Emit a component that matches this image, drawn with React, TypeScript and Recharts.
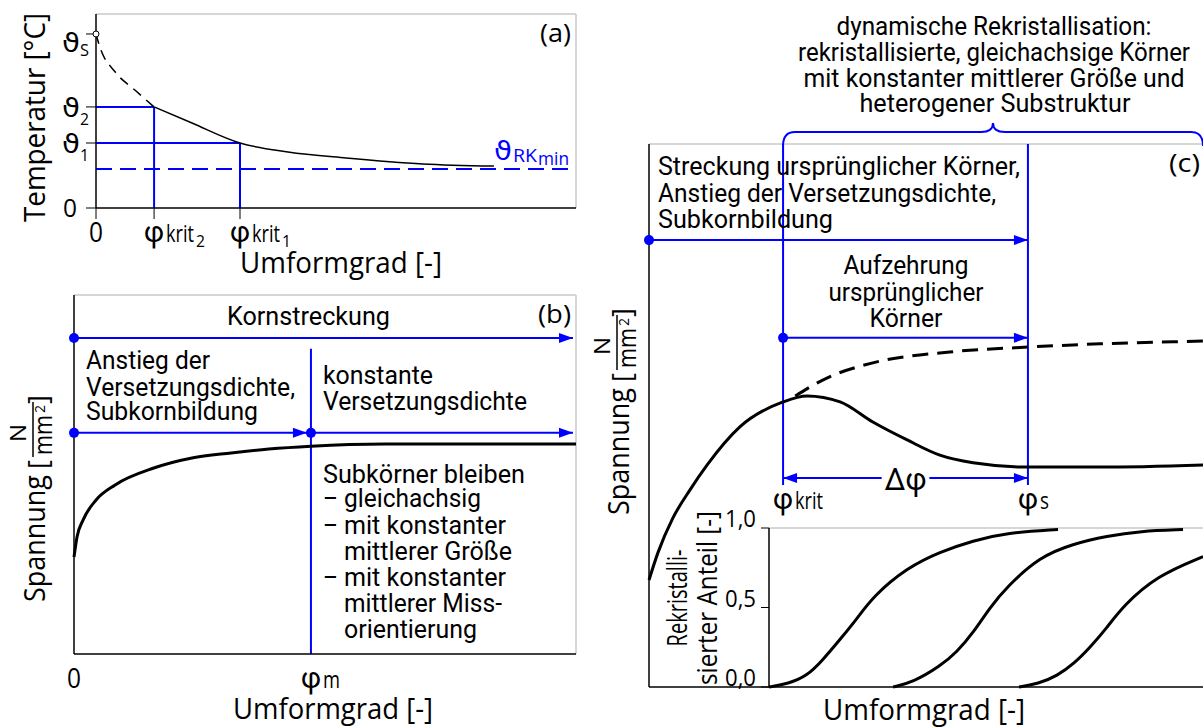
import React from 'react';
import { LineChart, Line, XAxis, YAxis, ReferenceLine, ReferenceDot } from 'recharts';

const BLUE = '#0000ff';
const GRAY = '#c8c8c8';
const SANS = "'Open Sans', 'DejaVu Sans', sans-serif";
const NARROW = "Roboto, 'Liberation Sans', sans-serif";
const GREEK = "'DejaVu Sans', sans-serif";
const PHI = "Roboto, 'DejaVu Sans', sans-serif";

// (a) Temperatur über Umformgrad
const tempStrain = [0, 0.8, 4.0, 8.1, 12.1, 20.0, 30.0, 40.0, 52.1, 68.1, 82.9];
const tempValue = [89.7, 83.0, 70.1, 60.8, 52.1, 43.8, 33.5, 28.9, 25.8, 22.7, 21.6];
const tempDashedUntil = 4;
const tempTicks = [0, 33.5, 52.1, 89.7];
const tempTickLabels = [['0', ''], ['ϑ', '1'], ['ϑ', '2'], ['ϑ', 'S']];
const strainTicksA = [0, 12.1, 30.0];
const strainTickLabelsA = [['0', '', ''], ['φ', 'krit', '2'], ['φ', 'krit', '1']];
const phiKrit2 = 12.1;
const phiKrit1 = 30.0;
const theta2 = 52.1;
const theta1 = 33.5;
const thetaS = 89.7;
const thetaRKmin = 20.1;

// (b) Fließkurve mit dynamischer Erholung
const flowStrain = [0, 0.6, 1.8, 4.4, 8.2, 15.9, 23.5, 31.3, 38.8, 47.2, 62.0, 77.3, 100];
const flowStress = [27.0, 32.6, 37.3, 42.9, 47.1, 51.8, 54.6, 56.0, 57.1, 57.9, 58.5, 58.5, 58.5];
const strainTicksB = [0, 47.2];
const strainTickLabelsB = [['0', ''], ['φ', 'm']];
const phiM = 47.2;
const phiMTop = 85.0;
const rowsB = [88.0, 61.6];

// (c) Fließkurve mit dynamischer Rekristallisation
const drxStrain = [0, 1.6, 4.3, 7.4, 10.5, 16.4, 24.2, 28.5, 34.5, 40.4, 46.6, 52.5, 58.5, 68.4, 81.4, 100];
const drxStress = [19.7, 24.7, 31.1, 36.3, 40.9, 47.9, 52.5, 53.6, 52.5, 48.8, 45.5, 42.7, 41.3, 40.5, 40.5, 40.9];
const hardStrain = [26.4, 32.1, 40.4, 54.3, 68.4, 81.4, 100];
const hardStress = [53.6, 56.9, 59.7, 61.7, 62.6, 63.2, 63.7];
const phiKrit = 24.2;
const phiS = 68.4;
const rowsC = [82.3, 64.3];
const deltaRow = 38.5;
const deltaGap = 4.3;
const markerBottom = 37.2;

// Rekristallisierter Anteil (Einsatz)
const fracTicks = [0, 0.5, 1];
const fracTickLabels = ['0,0', '0,5', '1,0'];
const frac1X = [0, 4.4, 8.8, 12.4, 16.4, 20.3, 24.0, 31.8, 39.4, 47.0, 54.8, 66.6];
const frac1Y = [0, 0.02, 0.07, 0.17, 0.3, 0.43, 0.57, 0.75, 0.85, 0.92, 0.97, 0.99];
const frac2X = [28.6, 33.2, 39.4, 43.3, 47.0, 50.9, 54.8, 62.4, 70.0, 77.9, 85.5, 95.4];
const frac2Y = [0, 0.03, 0.13, 0.22, 0.34, 0.5, 0.63, 0.82, 0.9, 0.95, 0.98, 0.99];
const frac3X = [57.6, 62.0, 66.4, 70.4, 74.0, 77.8, 81.6, 89.4, 100];
const frac3Y = [0, 0.02, 0.07, 0.15, 0.25, 0.37, 0.51, 0.7, 0.82];

const pts = (xs: number[], ys: number[]) => xs.map((x, i) => ({ x, y: ys[i] }));
const tempData = tempStrain.map((x, i) => ({
  x,
  dashed: i <= tempDashedUntil ? tempValue[i] : null,
  solid: i >= tempDashedUntil ? tempValue[i] : null,
}));
const flowData = pts(flowStrain, flowStress);
const drxData = pts(drxStrain, drxStress);
const hardData = pts(hardStrain, hardStress);
const fracData = [pts(frac1X, frac1Y), pts(frac2X, frac2Y), pts(frac3X, frac3Y)];

const SUB_W: Record<string, number> = { krit: 28, m: 17, s: 9 };

function Txt({ x, y, w, size = 26, anchor = 'start', family = NARROW, fill = '#000', children }: any) {
  return (
    <text x={x} y={y} fontSize={size} textAnchor={anchor} fontFamily={family} fill={fill}
      textLength={w} lengthAdjust="spacingAndGlyphs">{children}</text>
  );
}

function PhiLabel({ x, base, sub, sub2 }: any) {
  return (
    <g>
      <Txt x={x} y={base} w={20} size={29} anchor="middle" family={PHI}>φ</Txt>
      <Txt x={x + 12} y={base} w={SUB_W[sub]} size={23} family={SANS}>{sub}</Txt>
      {sub2 ? <Txt x={x + 42} y={base + 5} w={9} size={17} family={SANS}>{sub2}</Txt> : null}
    </g>
  );
}

const strainTick = (ticks: number[], labels: string[][], base: number) => (p: any) => {
  const [main, sub, sub2] = labels[ticks.indexOf(p.payload.value)] || ['', '', ''];
  if (main === '0') return <Txt x={p.x} y={base} w={14} size={28} anchor="middle" family={SANS}>0</Txt>;
  return <PhiLabel x={p.x} base={base} sub={sub} sub2={sub2} />;
};

function TempTick(p: any) {
  const [main, sub] = tempTickLabels[tempTicks.indexOf(p.payload.value)] || ['', ''];
  if (!sub) return <Txt x={70} y={p.y + 9} w={14} size={25} anchor="middle" family={SANS}>{main}</Txt>;
  const low = sub === 'S' ? 8 : 0;
  return (
    <g>
      <Txt x={62} y={p.y + 10 + low} w={18} size={26} family={GREEK}>{main}</Txt>
      <Txt x={80} y={p.y + 18 + low / 2} w={9} size={17} family={SANS}>{sub}</Txt>
    </g>
  );
}

function FracTick(p: any) {
  const label = fracTickLabels[fracTicks.indexOf(p.payload.value)];
  return <Txt x={756} y={p.y - 1} w={31} size={24} anchor="end" family={SANS}>{label}</Txt>;
}

const arrowShape = (endHead: boolean) => (p: any) => {
  const { x1, y1, x2, y2 } = p;
  const a = Math.atan2(y2 - y1, x2 - x1);
  const L = 14;
  const W = 5;
  const bx = x2 - L * Math.cos(a);
  const by = y2 - L * Math.sin(a);
  const nx = -Math.sin(a) * W;
  const ny = Math.cos(a) * W;
  return (
    <g>
      <line x1={x1} y1={y1} x2={x2} y2={y2} stroke={BLUE} strokeWidth={2} />
      {endHead ? <polygon points={`${x2},${y2} ${bx + nx},${by + ny} ${bx - nx},${by - ny}`} fill={BLUE} /> : null}
    </g>
  );
};

const axisStyle = { stroke: '#000', strokeWidth: 1.5 };
const blueLine = { stroke: BLUE, strokeWidth: 2 };

function StressTitle({ dx = 0, dy = 0 }: any) {
  return (
    <g transform={`translate(${dx},${dy}) rotate(-90)`}>
      <Txt x={-602} y={45} w={127} size={30} family={SANS}>Spannung</Txt>
      <text x={-469} y={48} fontSize={27} fontFamily={SANS}>[</text>
      <Txt x={-442} y={26} w={18} size={22} family={SANS}>N</Txt>
      <line x1={-457} y1={33} x2={-402} y2={33} stroke="#000" strokeWidth={1.5} />
      <Txt x={-455} y={52} w={40} size={26} family={SANS}>mm</Txt>
      <text x={-413} y={45} fontSize={14} fontFamily={SANS}>2</text>
      <text x={-404} y={48} fontSize={27} fontFamily={SANS}>]</text>
    </g>
  );
}

export default function App() {
  const W = 1203;
  const H = 727;
  const layer: React.CSSProperties = { position: 'absolute', left: 0, top: 0 };
  return (
    <div style={{ position: 'absolute', left: 0, top: 0, width: W, height: H, overflow: 'hidden', background: '#fff' }}>
      {/* (a) */}
      <div style={layer}>
        <LineChart width={W} height={H} data={tempData} margin={{ top: 14, right: 627, bottom: 449, left: 0 }}>
          <XAxis type="number" dataKey="x" domain={[0, 100]} ticks={strainTicksA} interval={0} height={70}
            tickSize={11} axisLine={axisStyle} tickLine={{ stroke: '#000' }}
            tick={strainTick(strainTicksA, strainTickLabelsA, 242)} />
          <YAxis type="number" domain={[0, 100]} ticks={tempTicks} interval={0} width={96}
            tickSize={10} axisLine={axisStyle} tickLine={{ stroke: '#000' }} tick={TempTick} />
          <ReferenceLine y={100} stroke={GRAY} strokeWidth={1.5} />
          <ReferenceLine x={100} stroke={GRAY} strokeWidth={1.5} />
          <ReferenceLine y={thetaRKmin} {...blueLine} strokeDasharray="16 8" />
          <ReferenceLine segment={[{ x: 0, y: theta2 }, { x: phiKrit2, y: theta2 }]} {...blueLine} />
          <ReferenceLine segment={[{ x: phiKrit2, y: theta2 }, { x: phiKrit2, y: 0 }]} {...blueLine} />
          <ReferenceLine segment={[{ x: 0, y: theta1 }, { x: phiKrit1, y: theta1 }]} {...blueLine} />
          <ReferenceLine segment={[{ x: phiKrit1, y: theta1 }, { x: phiKrit1, y: 0 }]} {...blueLine} />
          <Line dataKey="dashed" type="monotone" stroke="#000" strokeWidth={1.5} strokeDasharray="10 7"
            dot={false} isAnimationActive={false} />
          <Line dataKey="solid" type="monotone" stroke="#000" strokeWidth={1.5} dot={false} isAnimationActive={false} />
          <ReferenceDot x={0} y={thetaS} r={3} fill="#fff" stroke="#000" strokeWidth={1} ifOverflow="visible" />
          <ReferenceDot x={100} y={thetaRKmin} r={0} ifOverflow="visible" shape={(p: any) => (
            <g>
              <Txt x={p.cx - 82} y={p.cy - 9} w={18} size={26} family={GREEK} fill={BLUE}>ϑ</Txt>
              <Txt x={p.cx - 63} y={p.cy - 7} w={24} size={18} family={SANS} fill={BLUE}>RK</Txt>
              <Txt x={p.cx - 38} y={p.cy - 4} w={31} size={18} family={SANS} fill={BLUE}>min</Txt>
            </g>
          )} />
        </LineChart>
      </div>

      {/* (b) */}
      <div style={layer}>
        <LineChart width={W} height={H} margin={{ top: 295, right: 627, bottom: 33, left: 0 }}>
          <XAxis type="number" dataKey="x" domain={[0, 100]} ticks={strainTicksB} interval={0} height={40}
            tickSize={0} axisLine={axisStyle} tickLine={false}
            tick={strainTick(strainTicksB, strainTickLabelsB, 688)} />
          <YAxis type="number" domain={[0, 100]} width={74} tick={false} tickLine={false} axisLine={axisStyle} />
          <ReferenceLine y={100} stroke={GRAY} strokeWidth={1.5} />
          <ReferenceLine x={100} stroke={GRAY} strokeWidth={1.5} />
          <ReferenceLine segment={[{ x: phiM, y: 0 }, { x: phiM, y: phiMTop }]} {...blueLine} />
          <ReferenceLine segment={[{ x: 0, y: rowsB[0] }, { x: 99.4, y: rowsB[0] }]} shape={arrowShape(true)} />
          <ReferenceLine segment={[{ x: 0, y: rowsB[1] }, { x: 46.4, y: rowsB[1] }]} shape={arrowShape(true)} />
          <ReferenceLine segment={[{ x: phiM, y: rowsB[1] }, { x: 99.4, y: rowsB[1] }]} shape={arrowShape(true)} />
          <Line data={flowData} dataKey="y" type="monotone" stroke="#000" strokeWidth={3} dot={false} isAnimationActive={false} />
          <ReferenceDot x={0} y={rowsB[0]} r={5} fill={BLUE} stroke="none" ifOverflow="visible" />
          <ReferenceDot x={0} y={rowsB[1]} r={5} fill={BLUE} stroke="none" ifOverflow="visible" />
          <ReferenceDot x={phiM} y={rowsB[1]} r={5} fill={BLUE} stroke="none" ifOverflow="visible" />
        </LineChart>
      </div>

      {/* (c) */}
      <div style={layer}>
        <LineChart width={W} height={H} margin={{ top: 144, right: 0, bottom: 30, left: 600 }}>
          <XAxis type="number" dataKey="x" domain={[0, 100]} height={10} tick={false} tickLine={false} axisLine={axisStyle} />
          <YAxis type="number" domain={[0, 100]} width={49} tick={false} tickLine={false} axisLine={axisStyle} />
          <ReferenceLine y={100} stroke={GRAY} strokeWidth={1.5} />
          <ReferenceLine segment={[{ x: phiKrit, y: markerBottom }, { x: phiKrit, y: 100 }]} {...blueLine} />
          <ReferenceLine segment={[{ x: phiS, y: markerBottom }, { x: phiS, y: 100 }]} {...blueLine} />
          <ReferenceLine segment={[{ x: 0, y: rowsC[0] }, { x: phiS, y: rowsC[0] }]} shape={arrowShape(true)} />
          <ReferenceLine segment={[{ x: phiKrit, y: rowsC[1] }, { x: phiS, y: rowsC[1] }]} shape={arrowShape(true)} />
          <ReferenceLine segment={[{ x: (phiKrit + phiS) / 2 - deltaGap, y: deltaRow }, { x: phiKrit, y: deltaRow }]} shape={arrowShape(true)} />
          <ReferenceLine segment={[{ x: (phiKrit + phiS) / 2 + deltaGap, y: deltaRow }, { x: phiS, y: deltaRow }]} shape={arrowShape(true)} />
          <Line data={hardData} dataKey="y" type="monotone" stroke="#000" strokeWidth={3} strokeDasharray="16 9"
            dot={false} isAnimationActive={false} />
          <Line data={drxData} dataKey="y" type="monotone" stroke="#000" strokeWidth={3} dot={false} isAnimationActive={false} />
          <ReferenceDot x={0} y={rowsC[0]} r={5} fill={BLUE} stroke="none" ifOverflow="visible" />
          <ReferenceDot x={phiKrit} y={rowsC[1]} r={5} fill={BLUE} stroke="none" ifOverflow="visible" />
          <ReferenceDot x={(phiKrit + phiS) / 2} y={deltaRow} r={0} ifOverflow="visible" shape={(p: any) => (
            <Txt x={p.cx} y={p.cy + 12} w={42} size={31} anchor="middle" family={PHI}>Δφ</Txt>
          )} />
          <ReferenceDot x={phiKrit} y={markerBottom} r={0} ifOverflow="visible" shape={(p: any) => (
            <PhiLabel x={p.cx} base={p.cy + 24} sub="krit" />
          )} />
          <ReferenceDot x={phiS} y={markerBottom} r={0} ifOverflow="visible" shape={(p: any) => (
            <PhiLabel x={p.cx} base={p.cy + 24} sub="s" />
          )} />
        </LineChart>
      </div>

      {/* (c) Einsatz: rekristallisierter Anteil */}
      <div style={layer}>
        <LineChart width={W} height={H} margin={{ top: 528, right: 0, bottom: 39, left: 700 }}>
          <XAxis type="number" dataKey="x" domain={[0, 100]} height={1} tick={false} tickLine={false} axisLine={false} />
          <YAxis type="number" domain={[0, 1]} ticks={fracTicks} interval={0} width={69} tickSize={8}
            axisLine={axisStyle} tickLine={{ stroke: '#000' }} tick={FracTick} />
          <ReferenceLine y={1} stroke={GRAY} strokeWidth={1.5} />
          {fracData.map((d, i) => (
            <Line key={i} data={d} dataKey="y" type="basis" stroke="#000" strokeWidth={3} dot={false} isAnimationActive={false} />
          ))}
        </LineChart>
      </div>

      {/* Beschriftungen */}
      <svg width={W} height={H} style={{ ...layer, pointerEvents: 'none' }}>
        <Txt x={540} y={42} w={31} size={26} family={SANS}>(a)</Txt>
        <Txt x={538} y={323} w={33} size={26} family={SANS}>(b)</Txt>
        <Txt x={1169} y={172} w={31} size={25} family={SANS}>(c)</Txt>

        <g transform="rotate(-90)">
          <Txt x={-222} y={45} w={209} size={30} family={SANS}>Temperatur [°C]</Txt>
          <Txt x={-598} y={687} w={97} size={27} anchor="middle" family={SANS}>Rekristalli-</Txt>
          <Txt x={-598} y={717} w={174} size={27} anchor="middle" family={SANS}>sierter Anteil [-]</Txt>
        </g>
        <StressTitle />
        <StressTitle dx={584} dy={-87} />

        <Txt x={341} y={273} w={202} size={29} anchor="middle" family={SANS}>Umformgrad [-]</Txt>
        <Txt x={333} y={719} w={200} size={29} anchor="middle" family={SANS}>Umformgrad [-]</Txt>
        <Txt x={924} y={720} w={202} size={29} anchor="middle" family={SANS}>Umformgrad [-]</Txt>

        <Txt x={227} y={325} w={163}>Kornstreckung</Txt>
        <Txt x={86} y={369} w={124}>Anstieg der</Txt>
        <Txt x={86} y={396} w={209}>Versetzungsdichte,</Txt>
        <Txt x={86} y={420} w={172}>Subkornbildung</Txt>
        <Txt x={323} y={384} w={110}>konstante</Txt>
        <Txt x={323} y={410} w={204}>Versetzungsdichte</Txt>
        <Txt x={323} y={483} w={202}>Subkörner bleiben</Txt>
        <Txt x={323} y={507} w={15}>–</Txt>
        <Txt x={344} y={507} w={137}>gleichachsig</Txt>
        <Txt x={323} y={534} w={15}>–</Txt>
        <Txt x={344} y={534} w={162}>mit konstanter</Txt>
        <Txt x={344} y={560} w={168}>mittlerer Größe</Txt>
        <Txt x={323} y={586} w={15}>–</Txt>
        <Txt x={344} y={586} w={162}>mit konstanter</Txt>
        <Txt x={344} y={612} w={158}>mittlerer Miss-</Txt>
        <Txt x={344} y={638} w={133}>orientierung</Txt>

        <Txt x={994} y={35} w={315} anchor="middle">dynamische Rekristallisation:</Txt>
        <Txt x={994} y={61} w={392} anchor="middle">rekristallisierte, gleichachsige Körner</Txt>
        <Txt x={994} y={87} w={381} anchor="middle">mit konstanter mittlerer Größe und</Txt>
        <Txt x={995} y={112} w={271} anchor="middle">heterogener Substruktur</Txt>
        <path d="M 783 146 Q 783 132 795 132 L 981 132 Q 993 132 993 123 Q 993 132 1005 132 L 1191 132 Q 1203 132 1203 146"
          fill="none" stroke={BLUE} strokeWidth={2} />

        <Txt x={658} y={175} w={362}>Streckung ursprünglicher Körner,</Txt>
        <Txt x={658} y={202} w={338}>Anstieg der Versetzungsdichte,</Txt>
        <Txt x={658} y={228} w={175}>Subkornbildung</Txt>
        <Txt x={906} y={274} w={125} anchor="middle">Aufzehrung</Txt>
        <Txt x={906} y={301} w={155} anchor="middle">ursprünglicher</Txt>
        <Txt x={906} y={327} w={73} anchor="middle">Körner</Txt>
      </svg>
    </div>
  );
}
